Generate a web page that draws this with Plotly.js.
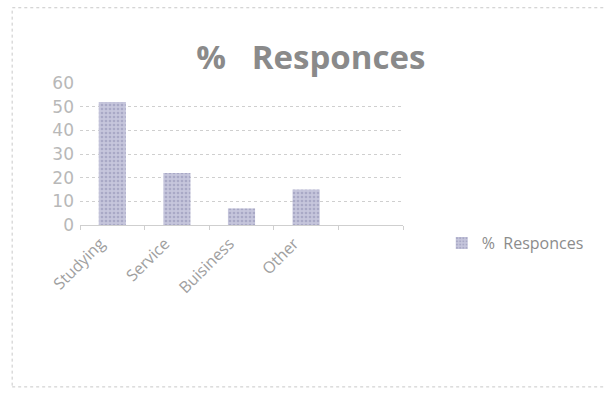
<!DOCTYPE html>
<html>
<head>
<meta charset="utf-8">
<script src="https://cdn.plot.ly/plotly-3.0.1.min.js"></script>
<style>html,body{margin:0;padding:0;background:#fff;}#chart{width:606px;height:394px;}</style>
</head>
<body>
<div id="chart"></div>
<script>
const categories = ['Studying', 'Service', 'Buisiness', 'Other', ' '];
const responses = [52, 22, 7, 15, null];
const seriesName = '%  Responces';
const titleText = '%  &nbsp;Responces';
const yTicks = [0, 10, 20, 30, 40, 50, 60];

const trace = {
  type: 'bar',
  x: categories,
  y: responses,
  name: seriesName,
  showlegend: true,
  marker: {
    color: '#c3c3da',
    line: {width: 0},
    pattern: {shape: '.', fgcolor: '#a9a9c6', bgcolor: '#c6c6dc', size: 4, solidity: 0.35}
  }
};

const layout = {
  width: 606,
  height: 394,
  paper_bgcolor: '#ffffff',
  plot_bgcolor: '#ffffff',
  margin: {l: 80, r: 203, t: 83, b: 169},
  title: {
    text: titleText,
    x: 0.513, xanchor: 'center',
    y: 0.853, yanchor: 'middle',
    font: {family: 'Open Sans, sans-serif', size: 33, color: '#8a8a8a', weight: 'bold'}
  },
  bargap: 0.58,
  xaxis: {
    type: 'category',
    tickangle: -45,
    tickfont: {family: 'Open Sans, sans-serif', size: 16, color: '#a0a0a0'},
    showline: true, linecolor: '#cfcfcf', linewidth: 1,
    ticks: 'outside', tickson: 'boundaries', ticklen: 4, tickcolor: '#cfcfcf',
    ticklabelshift: -12, ticklabelstandoff: 2,
    showgrid: false, fixedrange: true
  },
  yaxis: {
    range: [0, 60],
    tickvals: yTicks,
    ticktext: yTicks.map(String),
    tickfont: {family: 'DejaVu Sans, sans-serif', size: 17, color: '#b8b8b8'},
    showgrid: true, gridcolor: '#cfcfcf', griddash: 'dot', gridwidth: 1,
    zeroline: false, showline: false, ticks: '', ticklabelstandoff: 5, fixedrange: true
  },
  legend: {
    x: 1.12, xref: 'paper', y: -0.127, yref: 'paper',
    xanchor: 'left', yanchor: 'middle',
    font: {family: 'Open Sans, sans-serif', size: 16, color: '#8c8c8c'},
    bgcolor: 'rgba(0,0,0,0)',
    itemwidth: 30
  },
  shapes: [{
    type: 'rect', xref: 'paper', yref: 'paper',
    x0: -0.21, x1: 2.05, y0: -1.14, y1: 1.53,
    line: {color: '#c8c8c8', width: 1, dash: 'dot'},
    fillcolor: 'rgba(0,0,0,0)', layer: 'below'
  }]
};

Plotly.newPlot('chart', [trace], layout, {displayModeBar: false, staticPlot: true});
</script>
</body>
</html>
